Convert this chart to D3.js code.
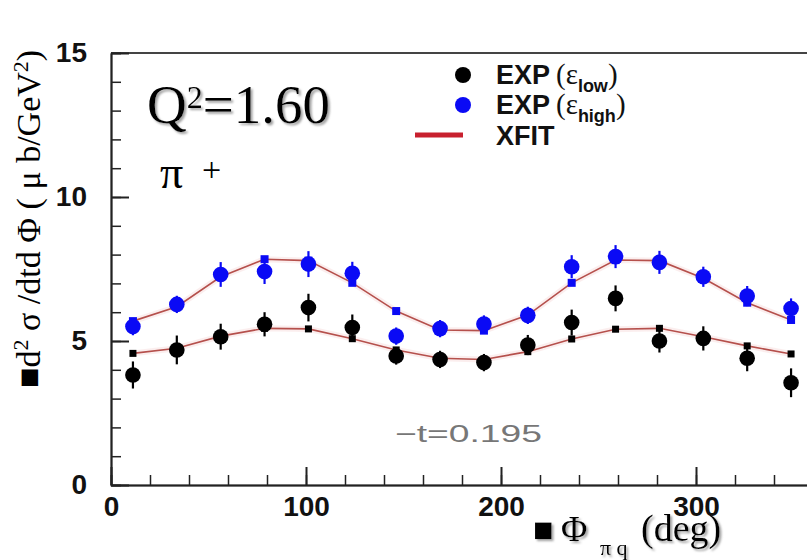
<!DOCTYPE html>
<html lang="en">
<head>
    <meta charset="UTF-8">
    <title>Pi+ cross section vs phi</title>
    <style>
        body { margin: 0; background: #fff; }
        svg { display: block; }
        .tick text { font-family: "Liberation Sans", Arial, sans-serif; font-weight: bold; font-size: 28px; fill: #111; }
        .serif { font-family: "Liberation Serif", "Times New Roman", serif; }
        .sans { font-family: "Liberation Sans", Arial, sans-serif; }
    </style>
</head>
<body>
<div id="chart"></div>
<script src="https://d3js.org/d3.v7.min.js"></script>
<script>
    // phi bins (deg)
    const phi = [11.25, 33.75, 56.25, 78.75, 101.25, 123.75, 146.25, 168.75,
                 191.25, 213.75, 236.25, 258.75, 281.25, 303.75, 326.25, 348.75];

    // low epsilon: data, errors, fit
    const lowExp = [3.82, 4.69, 5.15, 5.58, 6.16, 5.47, 4.48, 4.36, 4.25, 4.86, 5.64, 6.48, 5.00, 5.09, 4.40, 3.55];
    const lowErr = [0.47, 0.5, 0.45, 0.42, 0.48, 0.45, 0.3, 0.3, 0.3, 0.35, 0.45, 0.45, 0.4, 0.42, 0.45, 0.5];
    const lowFit = [4.57, 4.75, 5.17, 5.44, 5.42, 5.08, 4.69, 4.40, 4.36, 4.63, 5.07, 5.41, 5.44, 5.15, 4.83, 4.55];

    // high epsilon: data, errors, fit
    const highExp = [5.50, 6.27, 7.31, 7.41, 7.67, 7.35, 5.17, 5.43, 5.59, 5.89, 7.58, 7.93, 7.73, 7.23, 6.56, 6.13];
    const highErr = [0.3, 0.3, 0.43, 0.43, 0.45, 0.4, 0.3, 0.3, 0.3, 0.3, 0.4, 0.4, 0.4, 0.35, 0.35, 0.35];
    const highFit = [5.69, 6.19, 7.23, 7.84, 7.79, 7.02, 6.04, 5.38, 5.36, 5.90, 7.02, 7.81, 7.79, 7.18, 6.33, 5.73];

    const yMajor = [0, 5, 10, 15];
    const xMajor = [0, 100, 200, 300];

    const W = 807, H = 560;
    const svg = d3.select('#chart').append('svg')
        .attr('width', W).attr('height', H);

    // soft gray shadow used by the big serif labels
    svg.append('defs').append('filter').attr('id', 'shadow')
        .attr('x', '-5%').attr('y', '-10%').attr('width', '115%').attr('height', '130%')
        .append('feDropShadow').attr('dx', 2).attr('dy', 2).attr('stdDeviation', 0.8)
        .attr('flood-color', '#999').attr('flood-opacity', 0.9);

    const x = d3.scaleLinear().domain([0, 360]).range([111, 813]);
    const y = d3.scaleLinear().domain([0, 15]).range([485, 53]);

    // frame
    svg.append('line').attr('x1', x(0)).attr('x2', x(360)).attr('y1', y(15)).attr('y2', y(15))
        .attr('stroke', '#444').attr('stroke-width', 2);

    // y axis: minor then major
    svg.append('g').attr('transform', 'translate(' + x(0) + ',0)')
        .call(d3.axisLeft(y).tickValues(d3.range(0, 16, 1)).tickSize(-10).tickFormat(''))
        .call(g => g.selectAll('line, path').attr('stroke', '#222').attr('stroke-width', 1.5));
    const yAx = svg.append('g').attr('transform', 'translate(' + x(0) + ',0)')
        .call(d3.axisLeft(y).tickValues(yMajor).tickSize(-18).tickPadding(24).tickSizeOuter(0));
    yAx.selectAll('line, path').attr('stroke', '#222').attr('stroke-width', 2);

    // x axis
    svg.append('g').attr('transform', 'translate(0,' + y(0) + ')')
        .call(d3.axisBottom(x).tickValues(d3.range(0, 361, 20)).tickSize(-10).tickFormat(''))
        .call(g => g.selectAll('line, path').attr('stroke', '#222').attr('stroke-width', 1.5));
    const xAx = svg.append('g').attr('transform', 'translate(0,' + y(0) + ')')
        .call(d3.axisBottom(x).tickValues(xMajor).tickSize(-18).tickPadding(11).tickSizeOuter(0));
    xAx.selectAll('line, path').attr('stroke', '#222').attr('stroke-width', 2);

    // fit curves
    const line = d3.line().x((d, i) => x(phi[i])).y(d => y(d));
    [lowFit, highFit].forEach(fit => {
        svg.append('path').datum(fit).attr('d', line)
            .attr('fill', 'none').attr('stroke', '#f8dede').attr('stroke-width', 6).attr('opacity', 0.5);
        svg.append('path').datum(fit).attr('d', line)
            .attr('fill', 'none').attr('stroke', '#b5504c').attr('stroke-width', 1.6);
    });

    // fit squares
    const series = [
        {exp: lowExp, err: lowErr, fit: lowFit, color: '#000', sq: 7},
        {exp: highExp, err: highErr, fit: highFit, color: '#0a0af5', sq: 8}
    ];
    series.forEach(s => {
        svg.append('g').selectAll('rect').data(s.fit).enter().append('rect')
            .attr('x', (d, i) => x(phi[i]) - s.sq / 2)
            .attr('y', d => y(d) - s.sq / 2)
            .attr('width', s.sq).attr('height', s.sq)
            .attr('fill', s.color);
    });

    // data with error bars
    series.forEach(s => {
        const g = svg.append('g');
        g.selectAll('line').data(s.exp).enter().append('line')
            .attr('x1', (d, i) => x(phi[i])).attr('x2', (d, i) => x(phi[i]))
            .attr('y1', (d, i) => y(d - s.err[i])).attr('y2', (d, i) => y(d + s.err[i]))
            .attr('stroke', s.color).attr('stroke-width', 2.2);
        g.selectAll('circle').data(s.exp).enter().append('circle')
            .attr('cx', (d, i) => x(phi[i])).attr('cy', d => y(d))
            .attr('r', 7.8).attr('fill', s.color);
    });

    // legend
    svg.append('circle').attr('cx', 463).attr('cy', 75).attr('r', 8).attr('fill', '#000');
    svg.append('circle').attr('cx', 463).attr('cy', 105).attr('r', 8).attr('fill', '#0a0af5');
    svg.append('line').attr('x1', 415).attr('x2', 463).attr('y1', 135).attr('y2', 135)
        .attr('stroke', '#c8202e').attr('stroke-width', 5);

    function legendRow(yb, sub) {
        const t = svg.append('text').attr('x', 496).attr('y', yb).attr('fill', '#111');
        t.append('tspan').attr('class', 'sans').attr('font-weight', 'bold').attr('font-size', 27).text('EXP');
        t.append('tspan').attr('class', 'serif').attr('font-size', 29).attr('dx', 6).text('(ε');
        t.append('tspan').attr('class', 'sans').attr('font-weight', 'bold').attr('font-size', 18)
            .attr('dy', 8).text(sub);
        t.append('tspan').attr('class', 'serif').attr('font-size', 29).attr('dy', -8).text(')');
    }
    legendRow(84, 'low');
    legendRow(114, 'high');
    svg.append('text').attr('class', 'sans').attr('x', 496).attr('y', 145)
        .attr('font-weight', 'bold').attr('font-size', 27).attr('fill', '#111').text('XFIT');

    // Q2 label
    const q = svg.append('text').attr('class', 'serif').attr('x', 147).attr('y', 123)
        .attr('font-size', 55).attr('fill', '#000').attr('filter', 'url(#shadow)');
    q.append('tspan').text('Q');
    q.append('tspan').attr('font-size', 32).attr('dy', -15).text('2');
    q.append('tspan').attr('dy', 15).text('=1.60');

    svg.append('text').attr('class', 'serif').attr('x', 160).attr('y', 188)
        .attr('font-size', 46).text('π');
    svg.append('text').attr('class', 'serif').attr('x', 202).attr('y', 181)
        .attr('font-size', 34).text('+');

    // -t label
    svg.append('text').attr('class', 'sans').attr('x', 395).attr('y', 442)
        .attr('font-size', 24).attr('fill', '#777')
        .attr('textLength', 147).attr('lengthAdjust', 'spacingAndGlyphs')
        .text('\u2212t=0.195');

    // y axis title
    const yt = svg.append('text').attr('class', 'serif')
        .attr('transform', 'translate(40,388) rotate(-90)')
        .attr('font-size', 34).attr('fill', '#000');
    yt.append('tspan').text('■d');
    yt.append('tspan').attr('font-size', 22).attr('dy', -12).text('2');
    yt.append('tspan').attr('dy', 12).text(' σ /dtd Φ ( μ b/GeV');
    yt.append('tspan').attr('font-size', 22).attr('dy', -12).text('2');
    yt.append('tspan').attr('dy', 12).text(')');

    // x axis title
    const xt = svg.append('text').attr('class', 'serif').attr('y', 541)
        .attr('font-size', 36).attr('fill', '#000').attr('filter', 'url(#shadow)');
    xt.append('tspan').attr('x', 533).attr('font-size', 34).text('■');
    xt.append('tspan').attr('x', 561).text('Φ');
    xt.append('tspan').attr('x', 600).attr('font-size', 22).attr('dy', 14).text('π q');
    xt.append('tspan').attr('x', 641).attr('dy', -14).attr('font-size', 38).text('(deg)');
</script>
</body>
</html>
